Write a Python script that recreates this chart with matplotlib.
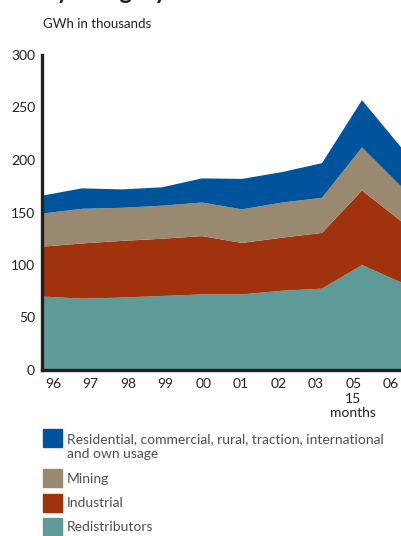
import numpy as np
import matplotlib
matplotlib.use("Agg")
import matplotlib.pyplot as plt
from matplotlib.patches import Rectangle

plt.rcParams['font.family'] = ['Lato', 'DejaVu Sans']

# data (GWh in thousands)
years = ["96", "97", "98", "99", "00", "01", "02", "03", "05\n15\nmonths", "06"]
redistributors = [70, 68, 69, 70.5, 72, 72, 75.5, 77.5, 100, 83]
industrial = [47.5, 52.5, 54, 54.5, 55.5, 49, 50.5, 53, 71, 58]
mining = [31.5, 33, 31.5, 31.5, 32, 32, 33.5, 33.5, 41, 33]
residential = [17, 19.5, 17.5, 17.5, 23, 29, 29, 33, 45, 37]

labels = ["Redistributors", "Industrial", "Mining",
          "Residential, commercial, rural, traction, international\nand own usage"]
colors = ["#5e9a98", "#a0320e", "#998970", "#00549c"]

x = np.arange(len(years))
W, H = 402, 536
fig = plt.figure(figsize=(W / 100, H / 100), dpi=100)
ax = fig.add_axes([42 / W, 1 - 370 / H, 1 - 42 / W, 315 / H])

ax.stackplot(x, redistributors, industrial, mining, residential,
             colors=colors, linewidth=0)
ax.set_xlim(0, len(years) - 1)
ax.set_ylim(0, 300)
ax.set_yticks([0, 50, 100, 150, 200, 250, 300])
# labels sit on their own spacing, slightly inset from the data points
ax.set_xticks(np.linspace(0.28, 8.72, len(years)))
ax.set_xticklabels(years, linespacing=1.25)
ax.tick_params(length=0, labelsize=10, colors="#231f20")
ax.tick_params(axis="y", pad=5)
ax.tick_params(axis="x", pad=6)
for s in ["top", "right"]:
    ax.spines[s].set_visible(False)
for s in ["left", "bottom"]:
    ax.spines[s].set_linewidth(2.4)
    ax.spines[s].set_color("#231f20")

# title (cut off at top edge, as in the source) and unit
fig.text(43 / W, 1 + 1 / H, "by category", fontsize=17, fontweight="bold",
         color="#231f20", va="baseline", ha="left")
fig.text(43 / W, 1 - 24 / H, "GWh in thousands", fontsize=9.5,
         color="#231f20", va="center", ha="left")

# legend
legend_rows = [(3, 429, 446.5), (2, 469, 479), (1, 494, 503), (0, 518, 527)]
for idx, top, cy in legend_rows:
    fig.patches.append(Rectangle((43 / W, 1 - (top + 18) / H), 19 / W, 18 / H,
                                 transform=fig.transFigure, color=colors[idx]))
    fig.text(67 / W, 1 - cy / H, labels[idx], fontsize=10, color="#4d4d4d",
             va="center", ha="left", linespacing=1.2)

fig.savefig("out.png", dpi=100)
